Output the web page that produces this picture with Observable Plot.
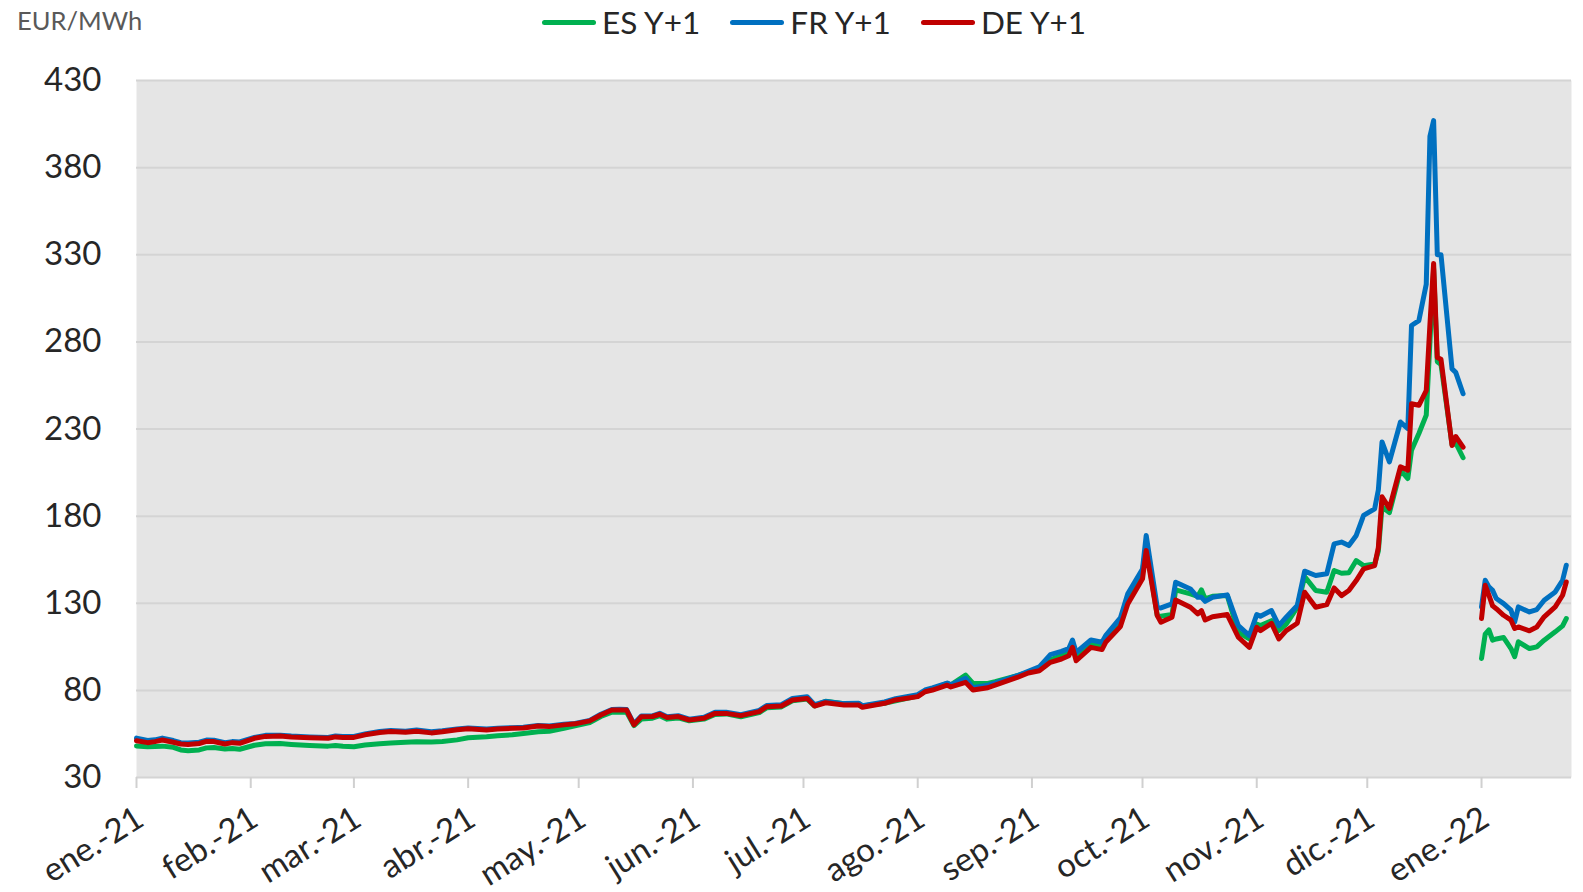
<!DOCTYPE html>
<html>
<head>
<meta charset="utf-8">
<script src="https://cdn.jsdelivr.net/npm/d3@7"></script>
<script src="https://cdn.jsdelivr.net/npm/@observablehq/plot@0.6"></script>
<style>
  html, body { margin: 0; padding: 0; background: #ffffff; }
  #wrap { position: relative; width: 1583px; height: 892px; font-family: Lato, "Open Sans", sans-serif; }
  #unit { position: absolute; left: 17px; top: 5px; font-size: 25.5px; color: #595959; }
  #legend { position: absolute; top: 0px; left: 542px; display: flex; align-items: center; height: 44px; font-size: 31.5px; color: #262626; }
  .item { display: flex; align-items: center; margin-right: 30px; }
  .sw { width: 54px; height: 5px; border-radius: 3px; margin-right: 6px; }
  #chart { position: absolute; left: 0; top: 0; }
</style>
</head>
<body>
<div id="wrap">
  <div id="chart"></div>
  <div id="unit"></div>
  <div id="legend"></div>
</div>
<script>
// ---- data ----
const unitLabel = "EUR/MWh";
const seriesNames = ["ES Y+1", "FR Y+1", "DE Y+1"];
const seriesColors = ["#00b050", "#0070c0", "#c00000"];

const dates = [
  "2021-01-01","2021-01-04","2021-01-06","2021-01-08","2021-01-11","2021-01-13","2021-01-15","2021-01-18","2021-01-20","2021-01-22",
  "2021-01-25","2021-01-27","2021-01-29","2021-02-02","2021-02-05","2021-02-09","2021-02-12","2021-02-17","2021-02-22","2021-02-24",
  "2021-02-26","2021-03-01","2021-03-04","2021-03-08","2021-03-11","2021-03-15","2021-03-18","2021-03-22","2021-03-25","2021-03-29",
  "2021-04-01","2021-04-06","2021-04-09","2021-04-13","2021-04-16","2021-04-20","2021-04-23","2021-04-27","2021-04-30","2021-05-04",
  "2021-05-07","2021-05-10","2021-05-12","2021-05-14","2021-05-16","2021-05-18","2021-05-21","2021-05-23","2021-05-25","2021-05-28",
  "2021-05-31","2021-06-04","2021-06-07","2021-06-10","2021-06-14","2021-06-19","2021-06-21","2021-06-25","2021-06-28","2021-07-02",
  "2021-07-04","2021-07-07","2021-07-12","2021-07-16","2021-07-17","2021-07-23","2021-07-26","2021-08-01","2021-08-03","2021-08-05",
  "2021-08-09","2021-08-10","2021-08-14","2021-08-16","2021-08-20","2021-08-22","2021-08-28","2021-08-31","2021-09-03","2021-09-06",
  "2021-09-09","2021-09-11","2021-09-12","2021-09-13","2021-09-17","2021-09-20","2021-09-21","2021-09-25","2021-09-27","2021-10-01",
  "2021-10-02","2021-10-05","2021-10-06","2021-10-09","2021-10-10","2021-10-14","2021-10-16","2021-10-17","2021-10-18","2021-10-20",
  "2021-10-24","2021-10-27","2021-10-30","2021-11-01","2021-11-02","2021-11-05","2021-11-07","2021-11-09","2021-11-12","2021-11-14",
  "2021-11-17","2021-11-20","2021-11-22","2021-11-24","2021-11-26","2021-11-28","2021-11-30","2021-12-03","2021-12-04","2021-12-05",
  "2021-12-07","2021-12-10","2021-12-12","2021-12-13","2021-12-15","2021-12-17","2021-12-18","2021-12-19","2021-12-20","2021-12-21",
  "2021-12-24","2021-12-25","2021-12-27","2021-12-30",
  "2022-01-01","2022-01-02","2022-01-03","2022-01-04","2022-01-05","2022-01-07","2022-01-09","2022-01-10","2022-01-11","2022-01-14",
  "2022-01-16","2022-01-18","2022-01-21","2022-01-23","2022-01-24"
];

const esValues = [
  48.1,47.6,47.8,48.0,47.3,45.8,45.4,45.8,47.0,47.2,
  46.3,46.6,46.2,48.5,49.4,49.5,49.0,48.4,48.0,48.4,
  47.9,47.7,48.6,49.4,49.8,50.2,50.5,50.4,50.6,51.6,
  52.8,53.4,54.0,54.5,55.2,56.2,56.5,58.2,59.6,61.5,
  65.0,67.5,67.6,67.5,59.8,63.5,64.0,65.5,63.5,64.2,
  62.5,63.5,66.2,66.5,64.8,67.2,70.0,70.5,74.0,75.0,
  71.0,73.8,72.4,72.4,71.0,72.6,74.0,76.8,79.6,80.8,
  84.0,83.2,88.8,84.0,84.0,85.0,88.5,90.5,92.5,97.5,
  100.0,101.5,105.0,99.5,106.5,105.5,110.0,120.0,134.0,148.5,
  163.0,123.0,122.5,123.5,137.7,135.4,134.0,137.7,132.5,134.0,
  134.4,113.3,109.5,118.0,117.2,120.0,114.3,118.0,127.7,145.3,
  137.3,136.3,148.8,147.2,147.5,154.5,151.6,152.6,160.0,185.4,
  182.0,206.4,201.6,217.8,227.4,238.0,280.0,322.0,268.6,267.0,
  221.0,222.0,213.5,null,
  98.3,112.3,114.7,108.8,109.5,110.3,104.0,99.3,107.9,104.0,
  105.0,108.8,113.6,117.0,121.2
];

const frValues = [
  52.6,51.2,51.6,52.6,51.2,50.0,49.8,50.3,51.5,51.4,
  50.0,50.6,50.4,53.0,54.2,54.3,53.8,53.3,53.0,53.8,
  53.6,53.6,55.0,56.4,57.0,56.6,57.2,56.2,56.8,57.8,
  58.4,57.8,58.2,58.6,58.8,59.8,59.5,60.5,61.0,62.8,
  66.3,69.0,69.2,69.0,60.8,65.3,65.4,66.8,64.9,65.5,
  63.5,64.6,67.4,67.4,66.0,68.5,71.3,71.8,75.4,76.3,
  71.8,73.6,72.4,72.6,71.2,73.4,75.2,77.5,80.2,81.4,
  84.2,83.2,86.9,81.5,83.0,84.2,88.4,91.0,93.5,100.5,
  102.4,104.0,108.9,101.8,108.9,107.6,111.4,121.6,135.4,149.7,
  168.9,127.7,127.3,129.6,142.1,138.2,133.4,133.4,131.1,133.4,
  134.8,117.2,111.4,123.5,122.5,125.8,117.2,122.0,128.7,148.4,
  145.9,146.9,164.1,165.1,163.1,168.9,180.4,184.2,195.0,222.6,
  211.1,234.0,230.2,289.4,292.2,313.0,398.0,407.0,330.0,330.0,
  264.5,262.5,250.2,null,
  127.9,143.2,139.4,137.4,132.7,129.8,126.0,119.3,127.9,125.0,
  126.4,131.7,136.5,143.2,151.8
];

const deValues = [
  51.1,50.0,50.6,51.5,50.2,49.2,49.0,49.5,50.7,50.6,
  49.2,50.0,49.6,52.5,53.6,53.8,53.2,52.8,52.5,53.3,
  53.0,53.0,54.5,55.8,56.4,56.0,56.6,55.6,56.2,57.4,
  58.0,57.3,57.8,58.2,58.4,59.5,59.2,60.2,60.8,62.5,
  65.9,68.7,68.8,68.7,60.2,64.9,65.0,66.3,64.4,65.0,
  63.0,64.0,66.8,66.8,65.5,67.8,70.6,71.0,74.5,75.4,
  71.0,72.9,71.6,71.6,70.3,72.6,74.5,76.4,79.2,80.2,
  83.0,82.0,84.6,80.2,81.5,83.0,87.4,90.0,91.3,96.1,
  98.0,99.9,104.7,97.0,104.7,103.4,107.6,116.6,129.6,144.0,
  160.3,122.9,119.1,122.0,131.9,127.7,123.9,125.8,120.4,122.3,
  123.5,110.5,104.7,116.2,114.3,118.5,109.5,114.3,118.5,136.3,
  127.7,129.2,138.8,134.4,137.3,143.0,149.7,151.6,162.0,191.1,
  184.5,208.3,206.4,244.5,243.6,252.0,290.0,325.0,271.0,270.0,
  220.5,225.7,219.6,null,
  121.2,140.3,134.6,128.5,126.9,123.1,120.3,115.5,116.4,114.2,
  116.4,122.2,127.9,134.6,142.2
];

const yTicks = [30, 80, 130, 180, 230, 280, 330, 380, 430];
const monthTicks = ["2021-01-01","2021-02-01","2021-03-01","2021-04-01","2021-05-01","2021-06-01","2021-07-01",
                    "2021-08-01","2021-09-01","2021-10-01","2021-11-01","2021-12-01","2022-01-01"];
const monthLabels = ["ene.-21","feb.-21","mar.-21","abr.-21","may.-21","jun.-21","jul.-21",
                     "ago.-21","sep.-21","oct.-21","nov.-21","dic.-21","ene.-22"];
const xStart = "2021-01-01";
const xEnd = "2022-01-25T10:00";

// ---- build ----
const rows = dates.map((d, i) => ({date: new Date(d), es: esValues[i], fr: frValues[i], de: deValues[i]}));
const tickDates = monthTicks.map(d => new Date(d));
const labelMap = new Map(tickDates.map((d, i) => [+d, monthLabels[i]]));

document.getElementById("unit").textContent = unitLabel;
const legend = document.getElementById("legend");
seriesNames.forEach((name, i) => {
  const it = document.createElement("div");
  it.className = "item";
  const sw = document.createElement("div");
  sw.className = "sw";
  sw.style.background = seriesColors[i];
  const tx = document.createElement("span");
  tx.textContent = name;
  it.appendChild(sw); it.appendChild(tx);
  legend.appendChild(it);
});

const keys = ["es", "fr", "de"];
const chart = Plot.plot({
  width: 1583,
  height: 892,
  marginLeft: 136,
  marginRight: 12,
  marginTop: 80,
  marginBottom: 115,
  style: {fontFamily: "Lato, 'Open Sans', sans-serif", fontSize: "33px", color: "#262626", background: "transparent", overflow: "visible"},
  x: {type: "utc", domain: [new Date(xStart), new Date(xEnd)]},
  y: {domain: [30, 430]},
  marks: [
    Plot.frame({fill: "#e5e5e5", stroke: null}),
    Plot.gridY(yTicks, {stroke: "#d4d4d4", strokeOpacity: 1, strokeWidth: 2}),
    Plot.axisY({ticks: yTicks, tickSize: 0, tickPadding: 35, label: null, fill: "#262626"}),
    Plot.axisX({ticks: tickDates, tickFormat: () => "", tickSize: 11, label: null,
                stroke: "#d0d0d0", strokeWidth: 2}),
    Plot.axisX({ticks: tickDates, tickFormat: d => labelMap.get(+d), tickRotate: -32, tickSize: 0, tickPadding: 38,
                dx: 4, label: null, fill: "#262626"}),
    ...keys.map((k, i) => Plot.lineY(rows, {x: "date", y: k, stroke: seriesColors[i], strokeWidth: 5}))
  ]
});
document.getElementById("chart").appendChild(chart);
</script>
</body>
</html>
